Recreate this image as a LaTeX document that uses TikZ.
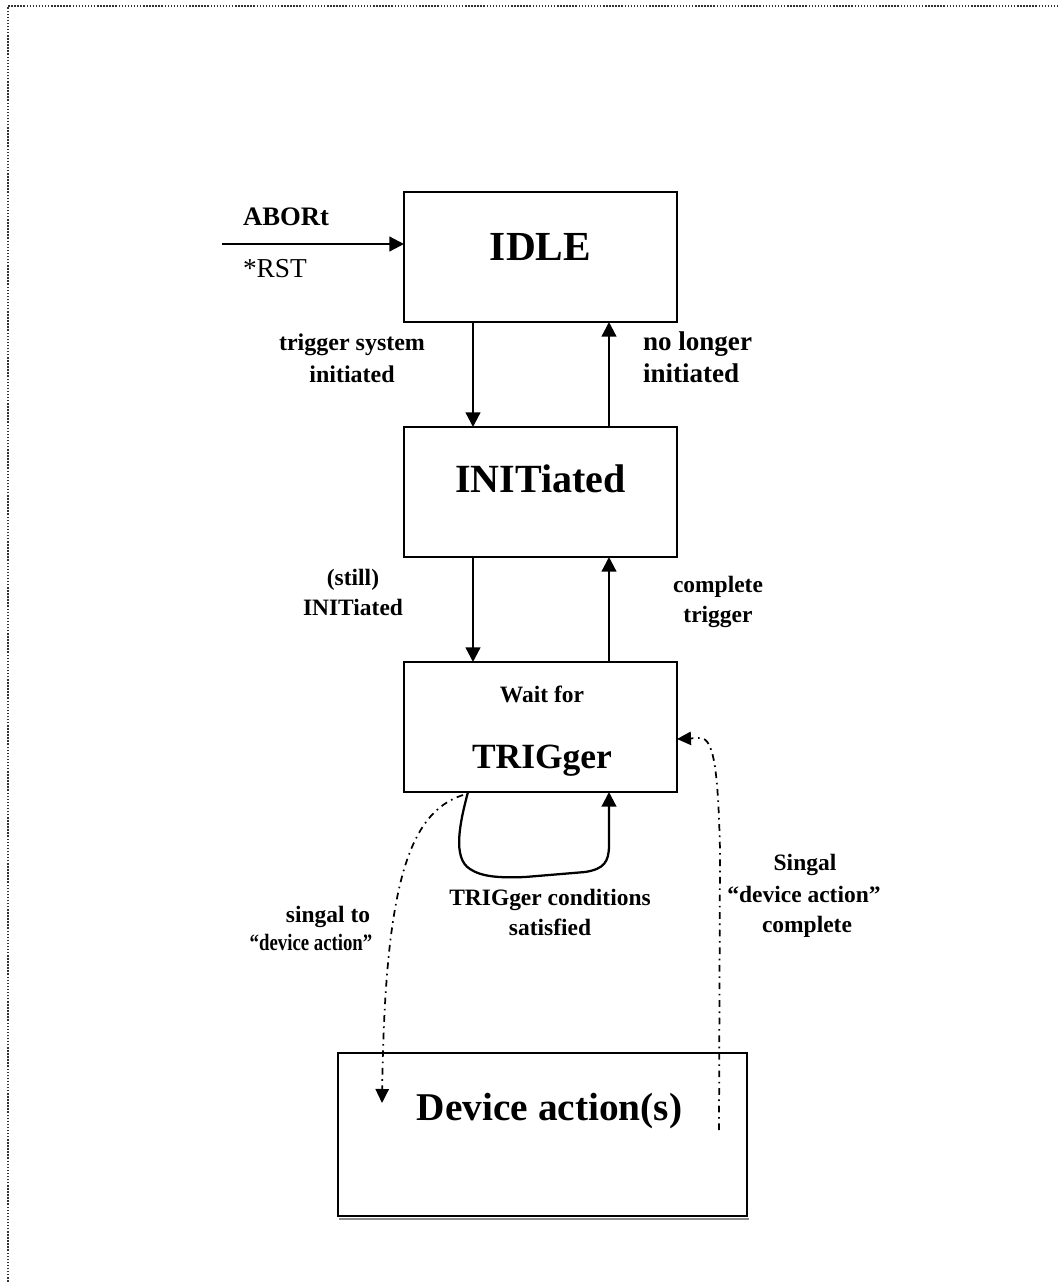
\documentclass[tikz,border=0pt]{standalone}
\usepackage{fontspec}
\usepackage{graphicx}
\setmainfont{Liberation Serif}
\usetikzlibrary{arrows.meta}
\begin{document}
\begin{tikzpicture}[x=0.75pt,y=-0.75pt,
  box/.style={draw, line width=1.7pt, minimum width=204.75pt, minimum height=97.5pt, inner sep=0pt, outer sep=0pt},
  txt/.style={inner sep=0pt, outer sep=0pt, anchor=base},
  big/.style={font=\fontsize{30pt}{36pt}\selectfont\bfseries},
  lbl/.style={font=\fontsize{17.6pt}{21pt}\selectfont\bfseries},
  arr/.style={line width=1.7pt, -{Triangle[length=11pt,width=11pt]}},
  ddarr/.style={line width=1.3pt, dash pattern=on 5pt off 3.5pt on 1.2pt off 3.5pt, -{Triangle[length=10.5pt,width=10pt]}},
  frame/.style={line width=1.2pt, black!80, dash pattern=on 1.1pt off 1.2pt}
]
\useasboundingbox (0,0) rectangle (1058,1283);
% page frame
\draw[frame] (8,1300) -- (8,6) -- (1070,6);

% boxes
\node[box] (idle) at (540.5,257) {};
\node[box] (init) at (540.5,492) {};
\node[box] (trig) at (540.5,727) {};
\draw[black!45, line width=1.5pt] (339,1218.5) -- (748.5,1218.5);
\node[box, minimum width=306.75pt, minimum height=122.25pt] (dev) at (542.5,1134.5) {};

% box texts
\node[txt, font=\fontsize{31pt}{36pt}\selectfont\bfseries] (idleT) at (540.5,260) {IDLE};
\node[txt, big] (initT) at (540.5,492) {INITiated};
\node[txt, lbl] (waitT) at (542,702) {Wait for};
\node[txt, font=\fontsize{26.6pt}{32pt}\selectfont\bfseries] (trigT) at (542,768) {TRIGger};
\node[txt, font=\fontsize{29.5pt}{35pt}\selectfont\bfseries] (devT) at (549.5,1120) {Device action(s)};

% abort arrow
\coordinate (abS) at (222,244);
\draw[arr] (abS) -- (abS -| idle.west);
\node[txt, anchor=base west, font=\fontsize{20pt}{24pt}\selectfont\bfseries] (abortT) at (243,225) {ABORt};
\node[txt, anchor=base west, font=\fontsize{20.5pt}{24pt}\selectfont] (rstT) at (243,277) {*RST};

% vertical connectors
\coordinate (L) at (473,0);
\coordinate (R) at (609,0);
\draw[arr] (idle.south -| L) -- (init.north -| L);
\draw[arr] (init.north -| R) -- (idle.south -| R);
\draw[arr] (init.south -| L) -- (trig.north -| L);
\draw[arr] (trig.north -| R) -- (init.south -| R);

% labels of vertical connectors
\node[txt, font=\fontsize{18pt}{22pt}\selectfont\bfseries] (tsA) at (352,350) {trigger system};
\node[txt, font=\fontsize{18pt}{22pt}\selectfont\bfseries] (tsB) at (352,382) {initiated};
\node[txt, anchor=base west, font=\fontsize{20.3pt}{24pt}\selectfont\bfseries] (nlA) at (643,350) {no longer};
\node[txt, anchor=base west, font=\fontsize{20.3pt}{24pt}\selectfont\bfseries] (nlB) at (643,382) {initiated};
\node[txt, lbl] (stA) at (353,585) {(still)};
\node[txt, lbl] (stB) at (353,615) {INITiated};
\node[txt, lbl] (ctA) at (718,592) {complete};
\node[txt, lbl] (ctB) at (718,622) {trigger};

% self loop
\coordinate (lpS) at (468,0);
\draw[arr] (trig.south -| lpS) .. controls (460,822) and (452,858) .. (470,869)
  .. controls (482,877) and (500,878) .. (525,877) -- (585,872)
  .. controls (604,869) and (609,862) .. (609,845) -- (trig.south -| R);
\node[txt, lbl] (tcA) at (550,905) {TRIGger conditions};
\node[txt, lbl] (tcB) at (550,935) {satisfied};

% signal to device action
\coordinate (sdS) at (463,795);
\coordinate (sdE) at (382,1103);
\draw[ddarr] (sdS) .. controls (407,813) and (385,890) .. (sdE);
\node[txt, lbl] (sgA) at (328,922) {singal to};
\node[txt, lbl] (sgB) at (311,950) {\scalebox{0.8}[1]{“device action”}};

% device action complete
\coordinate (dcS) at (719,1130);
\coordinate (dcY) at (0,739);
\draw[ddarr] (dcS) -- (720,850) .. controls (718,770) and (714,738) .. (700,738) -- (trig.east |- dcY);
\node[txt, lbl] (scA) at (805,870) {Singal};
\node[txt, lbl] (scB) at (804,902) {“device action”};
\node[txt, lbl] (scC) at (807,932) {complete};
\end{tikzpicture}
\end{document}
